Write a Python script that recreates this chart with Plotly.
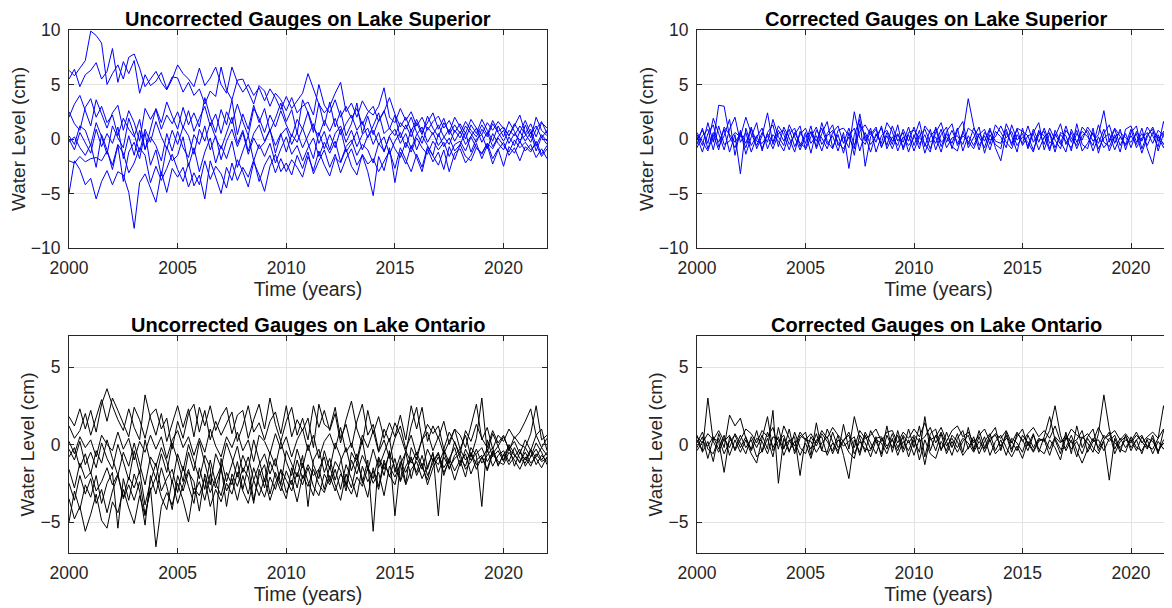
import plotly.graph_objects as go

# Sampling grid: quarterly from 2000 to 2022
TIME = [2000 + 0.25 * i for i in range(89)]

X_TICKS = [2000, 2005, 2010, 2015, 2020]
Y_TICKS_SUP = [-10, -5, 0, 5, 10]
Y_TICKS_ONT = [-5, 0, 5]

TITLES = ["Uncorrected Gauges on Lake Superior", "Corrected Gauges on Lake Superior",
          "Uncorrected Gauges on Lake Ontario", "Corrected Gauges on Lake Ontario"]

# Uncorrected gauges, Lake Superior (cm)
SUP_UNC = [
    [6.3,5.8,6.5,7.2, 9.9,9.5,8.8,5.0, 6.0,6.8,5.5,7.5, 7.8,6.5,4.8,5.5, 6.2,5.2,4.5,5.5, 6.8,6.0,5.5,4.8,
     6.5,4.9,5.6,6.6, 5.0,4.2,6.6,5.2, 4.3,5.0,4.0,4.7, 3.5,4.6,3.8,2.7, 3.9,2.8,3.5,4.2, 6.0,4.5,3.2,2.4,
     3.0,4.2,5.2,2.5, 3.3,2.0,3.5,2.6, 2.2,3.0,4.7,2.0, 1.5,2.8,1.7,2.5, 1.2,2.0,0.8,1.6, 2.1,1.0,1.7,0.6,
     1.4,0.5,1.8,1.0, 0.4,1.5,0.8,1.6, 0.9,0.3,1.2,2.2, 0.5,1.4,0.2,1.5, 1.0],
    [5.5,6.4,4.8,5.9, 6.3,7.0,5.5,6.2, 8.3,5.2,7.1,6.0, 7.2,4.2,5.9,4.9, 5.3,6.1,4.6,5.7, 5.6,4.3,5.2,4.0,
     4.6,3.2,4.4,3.9, 6.6,4.5,3.6,5.4, 5.5,4.3,3.2,4.9, 4.4,3.0,4.2,3.6, 2.6,3.8,2.4,3.0, 3.4,2.2,5.0,3.1,
     2.4,3.6,2.0,3.0, 1.9,2.8,1.3,2.4, 3.0,1.6,2.5,3.8, 2.3,1.1,2.0,0.7, 1.8,0.6,1.5,2.4, 0.9,1.9,0.4,1.3,
     0.5,1.6,0.8,0.2, 1.3,0.4,1.7,0.7, 1.1,0.3,1.4,0.6, 1.7,0.5,1.2,0.1, 0.8],
    [2.0,3.2,4.0,2.5, 1.2,3.6,2.3,1.0, 2.4,3.1,0.8,2.6, 1.5,-0.2,2.8,1.8, 2.7,0.9,2.2,1.4, 2.5,1.0,2.6,0.7,
     1.9,3.0,1.2,2.3, 0.5,2.5,1.4,3.2, 1.6,0.3,2.8,1.9, 0.6,2.2,1.1,2.6, 1.3,0.2,1.8,0.9, 2.5,1.0,0.3,1.7,
     0.7,1.9,0.4,1.4, 2.2,0.8,1.6,0.1, 1.2,2.4,0.5,1.0, 0.3,1.5,0.9,2.0, 0.6,-0.4,1.1,0.4, 1.3,0.2,-0.5,0.8,
     0.1,1.2,0.5,-0.3, 0.9,0.2,1.4,0.6, -0.2,0.8,0.3,1.2, 0.4,-0.3,0.9,1.6, 0.5],
    [0.3,-0.5,1.2,0.8, -0.6,1.5,0.2,-1.4, 1.2,0.1,-0.8,1.9, 0.4,-1.2,0.9,-0.3, 1.6,0.2,-0.9,0.8, -0.5,1.1,0.3,-1.4,
     0.9,-0.2,1.5,0.1, -0.9,0.6,2.0,-0.4, 0.8,-1.1,0.5,1.3, -0.2,0.9,-1.3,0.4, 1.0,-0.5,0.6,-0.8, 0.3,1.4,-0.4,0.7,
     -1.0,0.5,1.2,-0.3, 0.8,-0.7,0.4,1.0, -0.5,0.6,-1.2,0.3, 0.9,-0.4,0.5,-0.9, 0.4,1.1,-0.3,0.6, -0.6,0.2,0.9,-0.2,
     0.7,-0.5,0.3,1.0, -0.3,0.6,-0.7,0.2, 0.8,-0.4,0.5,-0.1, 0.3,0.9,-0.6,0.4, -0.2],
    [-0.3,0.2,-0.8,-1.5, -0.5,-2.6,0.4,-1.0, -2.8,-0.6,-3.9,-1.2, -0.3,-1.8,0.6,-2.4, -1.0,-3.4,-0.7,-2.0, -1.5,0.2,-2.5,-0.8,
     -3.0,-1.2,0.1,-2.2, -0.6,-1.8,-0.2,-2.6, -1.1,0.3,-2.0,-0.5, -1.6,-0.4,-2.2,-0.9, 0.2,-1.4,-0.6,-2.0, -0.8,0.1,-1.6,-0.3,
     -1.3,-0.2,-2.1,-0.7, -0.1,-1.5,-0.5,-1.0, -2.2,-0.4,-1.1,0.2, -0.9,-1.7,-0.3,-1.2, 0.1,-0.8,-1.4,-0.2, -1.0,-0.3,-1.6,-0.5,
     -0.2,-1.1,0.2,-0.8, -1.3,-0.4,-0.9,0.1, -0.6,-1.2,-0.1,-0.8, -0.3,-1.0,-0.5,-1.6, -0.9],
    [-2.0,-2.2,-1.6,-2.1, -1.8,-1.7,-2.0,-1.1, -2.4,-0.5,-1.3,-3.1, -2.2,-0.8,-1.5,-4.0, -2.5,-3.8,-2.7,-1.4, -2.8,-3.9,-2.2,-4.3,
     -3.3,-5.5,-2.0,-3.5, -5.0,-2.6,-3.8,-1.9, -3.0,-4.4,-2.1,-3.3, -4.8,-2.5,-1.4,-3.0, -2.2,-3.3,-1.5,-2.7, -1.2,-3.2,-2.0,-1.0,
     -2.6,-1.4,-3.1,-1.8, -0.9,-2.4,-1.5,-3.0, -5.2,-1.6,-2.9,-0.8, -4.0,-1.2,-2.3,-0.6, -1.7,-3.0,-0.9,-2.1, -1.2,-2.8,-0.7,-1.9,
     -0.5,-1.6,-2.0,-0.8, -1.4,-0.4,-1.8,-0.9, -2.5,-0.7,-1.3,-0.2, -1.1,-0.5,-1.7,-0.9, -1.8],
    [-5.0,-2.0,-2.8,-4.2, -3.6,-5.5,-3.9,-2.9, -4.2,-3.0,-3.3,-4.9, -8.2,-4.0,-3.2,-4.5, -5.8,-3.0,-4.9,-2.7, -3.5,-2.6,-4.4,-3.1,
     -4.2,-2.0,-3.7,-2.5, -3.2,-4.5,-2.2,-3.8, -2.6,-3.5,-1.9,-3.9, -2.4,-1.5,-3.1,-1.8, -3.0,-1.9,-2.6,-3.5, -1.6,-2.9,-1.1,-2.4,
     -3.4,-1.7,-2.2,-0.9, -2.5,-3.3,-1.4,-2.3, -1.8,-3.0,-2.0,-1.1, -2.7,-0.8,-1.9,-3.0, -1.4,-2.6,-0.7,-1.6, -2.4,-1.0,-3.0,-1.3,
     -0.9,-2.2,-1.5,-0.4, -1.8,-0.6,-2.3,-1.0, -0.3,-1.5,-0.8,-2.0, -0.7,-1.2,-0.2,-1.4, -0.6],
    [2.5,1.4,0.8,2.9, 3.7,2.0,3.0,1.5, 2.2,0.3,1.9,0.9, 0.2,1.8,-1.0,0.8, 2.8,1.5,3.4,2.1, 0.9,2.9,1.3,2.4,
     1.1,3.8,2.0,0.6, 2.7,1.3,3.6,0.4, 2.3,0.9,3.1,1.5, 2.8,0.7,1.9,3.3, 1.6,2.7,0.5,3.6, 2.4,0.6,3.3,1.2,
     3.4,1.1,2.6,0.3, 1.4,3.3,0.5,2.1, 0.4,1.7,2.6,0.9, 2.2,0.1,1.3,0.2, 1.5,0.4,2.1,1.0, 0.2,1.5,0.6,2.0,
     1.1,0.0,1.3,0.5, 1.8,0.8,-0.2,1.2, 0.2,1.6,0.7,-0.4, 1.3,0.1,2.0,0.8, 0.3],
    [0.0,-1.0,0.6,-0.4, -1.3,0.9,-0.7,0.5, -0.4,1.1,-1.8,0.3, -1.5,0.8,-0.9,0.2, -0.6,-2.0,0.5,-1.1, 0.7,-0.8,-1.7,0.4,
     -0.5,1.2,-1.0,0.3, -1.9,-0.2,0.9,-0.7, 0.6,-1.4,0.1,-0.9, -0.3,0.8,-0.6,0.5, -1.2,0.4,-0.3,1.0, -0.5,-1.8,0.6,-0.9,
     0.4,-0.8,0.9,-1.2, -0.4,0.7,-1.0,0.3, 0.8,-0.5,0.2,-1.4, -0.2,0.6,-0.8,0.9, -1.0,0.3,-0.6,-1.5, 0.5,-0.7,0.1,-1.1,
     -0.5,0.6,-1.2,0.0, 0.4,-0.9,0.5,-0.4, -1.0,0.2,-0.6,0.7, -0.2,0.6,-1.1,0.2, -0.5],
]

# Corrected gauges, Lake Superior (cm)
SUP_COR = [
    [0.4,-0.6,1.5,-0.3, 3.1,3.0,0.2,-0.8, 0.6,-0.4,1.1,-0.9, 0.3,2.4,-0.5,0.8, -0.2,0.9,-0.7,0.4, 1.0,-0.4,0.3,-1.1,
     0.5,1.3,-0.6,0.2, -0.8,2.5,0.1,-0.5, 0.7,-0.3,1.2,-0.9, 0.2,-0.6,0.9,-0.2, 1.1,-0.5,0.4,-0.9, 0.6,1.5,-0.3,0.8,
     -0.4,0.5,3.7,1.2, -0.6,0.3,-1.0,0.7, 0.2,-0.8,1.3,-0.1, 0.5,-0.7,0.9,-0.3, 1.0,-0.4,0.2,1.4, -0.5,0.6,-0.9,0.3,
     0.8,-0.2,0.4,2.6, -0.3,0.9,-0.6,0.5, -0.8,0.7,-0.2,1.1, 0.3,-0.7,1.6,-0.2, 0.6],
    [-0.5,1.0,-0.9,0.6, -0.3,0.9,-1.2,0.4, -3.2,1.0,-0.6,0.3, -0.9,0.5,-0.3,1.2, 0.4,-1.0,0.6,-0.4, -0.8,0.7,-0.2,1.0,
     -0.5,0.3,-1.1,0.6, -2.7,0.4,1.8,-2.5, 0.2,0.9,-0.7,0.3, -0.9,0.4,-0.3,1.1, -0.6,0.8,-1.3,0.2, 0.9,-0.7,0.5,-0.4,
     1.0,-1.1,0.3,-0.6, 0.5,-0.2,1.0,-0.8, -2.0,0.6,-0.4,0.9, -0.6,0.3,-1.0,0.4, 0.7,-0.9,0.5,-0.5, 1.2,-0.3,0.8,-1.1,
     -0.4,0.6,-0.9,0.1, 0.5,-1.0,0.2,-0.6, 0.3,-0.5,1.0,-0.9, -2.3,0.4,-0.5,0.8, -0.3],
    [0.2,-1.2,0.5,1.3, -0.7,0.3,1.8,-1.5, 0.8,-1.4,0.2,1.5, -1.1,0.6,1.3,-0.7, 1.1,0.1,-1.2,0.7, -0.4,1.2,-0.9,0.5,
     1.6,-0.8,0.4,-1.3, 0.6,-1.5,1.4,0.3, -1.2,0.5,-0.4,1.5, 0.7,-1.1,0.2,-0.6, 0.1,1.6,-0.7,0.9, -1.0,0.4,1.1,-0.9,
     0.8,1.6,-0.8,0.2, 1.1,-1.3,0.4,-0.5, -0.9,1.4,0.3,-1.2, 1.0,-0.9,0.6,1.5, -1.0,0.5,-1.2,0.6, 0.3,-1.1,1.4,-0.5,
     -0.9,1.0,-1.3,0.5, 1.3,-0.4,0.9,-1.0, 0.6,1.2,-0.9,0.4, 0.9,-1.1,0.5,1.2, -1.0],
    [0.0,0.8,-0.4,1.9, 0.5,-1.0,0.9,2.0, -0.3,0.6,-1.2,0.2, 1.0,-0.9,0.4,-0.2, -1.1,0.5,1.0,-0.7, 0.6,-1.3,0.8,0.1,
     -0.9,0.6,1.2,-0.4, 1.0,-0.6,0.7,1.3, 0.4,1.1,-0.8,0.6, -0.5,1.3,-1.0,0.4, -1.1,0.3,0.9,-0.3, 0.2,-1.2,0.7,1.4,
     -0.6,0.3,-0.2,-0.9, 0.4,0.9,-0.5,1.3, 0.6,-0.3,-0.9,0.4, -0.4,1.2,-0.3,0.6, 0.3,-1.1,0.8,-0.2, -1.2,0.9,-0.3,0.7,
     0.2,-0.6,1.3,-0.3, -0.7,0.4,-1.2,0.9, 1.2,-0.3,0.5,-0.6, 0.6,0.2,-0.8,0.5, 0.9],
    [-0.8,0.3,0.9,-1.0, 1.2,-0.5,-0.2,0.6, 0.2,2.0,0.5,-0.6, 0.6,-0.3,1.8,0.2, -0.6,1.3,0.2,-1.0, 0.3,0.6,-0.7,1.5,
     -0.2,-0.9,0.8,1.0, 0.3,1.0,-1.1,0.6, -0.5,0.2,1.0,-0.6, 1.2,-0.2,0.6,-1.2, 0.4,-0.9,1.2,0.5, -0.4,0.9,-0.8,0.1,
     0.3,-0.5,1.0,0.6, -1.0,0.6,-0.1,0.2, 1.2,0.1,0.7,-0.6, 0.2,-0.3,-1.2,0.8, -0.5,1.0,-0.1,-0.9, 0.8,0.1,-0.6,1.1,
     0.5,-1.1,0.2,-0.8, -0.1,1.0,0.3,-0.5, 0.9,-0.8,0.1,0.6, -0.4,0.8,0.3,-0.9, 0.2],
    [0.6,-0.2,-1.1,0.4, -1.0,1.1,0.4,-0.3, 0.5,-0.8,0.9,-0.2, -0.4,0.3,-0.9,0.5, 0.8,-0.5,0.4,1.2, -1.0,0.2,1.1,-0.5,
     0.3,0.8,-0.3,-0.9, 0.2,-0.9,2.3,-0.2, 1.0,-1.2,0.3,0.8, -0.2,0.5,-0.8,0.6, 0.8,0.1,-0.4,-1.2, 1.1,-0.3,0.2,-0.7,
     -1.1,0.7,-0.5,1.0, 0.2,-0.8,0.8,-0.2, -0.4,0.9,-0.6,1.0, 0.7,0.3,0.5,-1.0, 0.2,0.6,-0.8,0.4, -0.2,-0.8,0.5,-0.1,
     1.1,0.3,-0.4,0.9, -1.1,0.2,0.6,0.1, -0.3,0.5,-1.3,0.2, 1.1,-0.2,0.7,-0.5, 0.4],
]

# Uncorrected gauges, Lake Ontario (cm)
ONT_UNC = [
    [1.8,1.2,2.3,1.0, 2.2,0.8,2.6,3.6, 2.5,1.6,0.9,2.3, 1.1,0.3,3.2,1.7, 0.6,2.0,0.2,1.4, 2.5,1.1,2.3,0.5,
     2.4,1.2,2.5,0.9, 1.8,2.4,0.7,1.9, 2.2,0.4,1.6,2.6, 1.0,3.0,1.3,0.2, 1.5,2.4,0.6,1.7, 0.3,2.5,1.1,2.2,
     0.9,2.0,0.1,1.6, 2.8,1.0,0.0,2.2, 0.7,1.8,0.4,1.4, 0.5,1.9,0.3,2.5, 1.0,2.4,0.2,1.2, 0.4,1.5,0.0,1.0,
     0.6,-0.2,1.2,2.6, 0.3,1.1,-0.3,0.6, 0.2,1.0,0.4,0.8, 1.5,2.3,0.6,1.0, -0.4],
    [1.2,0.4,0.9,2.0, 0.6,1.8,2.9,1.5, 3.0,2.2,1.4,0.5, 2.4,1.6,0.4,1.9, 2.3,1.0,1.7,-0.3, 1.5,0.4,2.0,2.6,
     0.8,2.2,0.3,1.5, 0.6,1.4,2.1,0.2, 1.2,2.5,0.8,1.4, 0.3,1.5,2.1,0.7, 2.5,0.5,1.6,0.9, 1.7,-0.2,2.6,1.3,
     1.0,2.4,0.4,1.3, -0.2,1.5,2.6,0.6, 1.3,-0.4,1.0,0.2, 1.4,0.6,-0.5,1.2, 2.4,0.3,1.3,0.7, 1.2,-0.3,0.8,0.1,
     -0.6,0.9,0.2,1.3, 0.4,-0.2,0.9,0.1, 0.6,-0.4,0.5,0.0, -0.2,0.7,2.5,0.3, 0.6],
    [0.2,-0.6,0.5,-0.2, 0.3,-0.8,0.6,0.0, -0.4,0.8,-0.3,0.4, -1.0,0.2,-0.5,0.6, -0.3,0.5,-0.9,0.3, 0.9,-0.2,0.5,-0.7,
     0.4,-0.5,1.0,-0.1, -0.8,0.5,-0.2,0.8, -0.4,0.3,-1.1,0.6, 0.2,-0.6,0.7,-0.3, 0.5,-0.8,0.3,1.0, -0.4,0.6,-0.9,0.2,
     0.7,-0.3,1.1,-0.5, 0.1,-1.0,0.6,-0.2, 0.9,-0.5,0.3,-0.9, 0.4,1.2,-0.3,0.6, -0.7,0.3,0.8,-0.4, 0.5,-0.6,0.2,1.0,
     -0.3,0.6,-0.8,0.4, 3.0,-0.5,0.7,-0.1, 0.5,-0.3,0.2,-0.6, 0.3,-0.4,0.6,-0.2, 0.4],
    [-0.3,-1.0,0.2,-1.3, -0.5,-1.5,0.1,-0.9, -1.6,0.0,-1.1,-2.3, -0.4,-1.9,0.3,-1.2, -2.2,-0.6,-1.8,0.1, -1.0,-2.4,-0.5,-1.7,
     0.2,-1.3,-2.6,-0.6, -1.5,0.1,-0.9,-2.1, -0.7,-1.6,0.3,-1.0, -2.4,-0.5,-1.4,0.2, -1.1,-2.0,-0.3,-1.5, 0.0,-1.3,-2.2,-0.4,
     -1.6,0.1,-0.8,-2.7, -0.5,-1.2,0.3,-1.7, -0.3,-1.5,-0.6,0.4, -1.8,-0.7,-2.5,-0.2, -1.0,0.4,-1.6,-0.5, -4.6,-0.3,-1.2,0.2,
     -0.9,-1.4,-0.2,-0.7, -4.0,0.3,-0.8,-0.4, -1.1,0.0,-0.6,-1.2, -0.2,-0.8,0.1,-0.5, -1.3],
    [-0.8,-0.2,-1.5,-0.6, -1.9,-0.4,-1.2,0.3, -0.9,-2.0,-0.5,-1.4, 0.1,-1.3,-2.6,-0.8, -1.4,-0.2,-1.1,-2.5, -0.6,-1.7,0.0,-1.1,
     -2.2,-0.7,-1.5,-5.2, -0.9,-2.4,-1.2,-0.1, -1.8,-0.8,-2.3,-1.3, -0.6,-1.9,-0.9,-2.6, -0.4,-1.2,-2.1,-0.7, -4.0,-1.0,-0.3,-1.8,
     -0.9,-2.3,-1.1,-0.2, -1.7,-0.6,-2.5,-1.0, -5.6,-0.9,-2.0,-0.4, -4.6,-1.3,-0.5,-2.2, -0.8,-1.6,-0.3,-1.1, -0.5,-2.0,-0.9,-0.2,
     -1.4,-0.3,-1.0,-0.6, -0.2,-1.1,-0.5,-1.3, -0.7,-0.1,-1.4,-0.5, -1.0,-0.3,-0.9,-1.5, -0.8],
    [-1.6,-2.8,-1.2,-2.2, -1.8,-3.0,-2.4,-1.5, -2.6,-1.9,-3.4,-2.1, -2.8,-1.7,-3.9,-2.4, -1.2,-3.0,-2.2,-1.6, -3.1,-1.4,-2.7,-3.8,
     -1.5,-2.9,-1.0,-2.5, -3.3,-1.8,-2.6,-1.1, -2.9,-1.4,-3.6,-2.0, -1.3,-3.2,-1.8,-2.7, -3.5,-1.5,-2.8,-1.2, -2.4,-3.3,-1.6,-2.9,
     -1.4,-2.6,-3.6,-1.9, -2.8,-1.2,-2.2,-3.4, -1.5,-2.7,-1.0,-2.1, -0.9,-2.4,-1.4,-0.8, -2.0,-1.2,-2.6,-1.5, -0.8,-1.8,-1.1,-2.3,
     -1.2,-0.6,-1.9,-1.0, -0.7,-1.6,-0.4,-1.1, -1.3,-0.5,-1.0,-1.6, -0.8,-1.4,-0.6,-1.1, -0.9],
    [-2.5,-3.6,-2.0,-3.2, -2.2,-3.8,-2.9,-4.4, -3.0,-2.0,-3.5,-2.6, -3.6,-2.4,-4.5,-3.0, -2.1,-3.4,-4.2,-2.3, -3.8,-2.6,-1.6,-3.2,
     -2.4,-3.6,-1.9,-2.8, -1.6,-3.0,-2.2,-3.6, -2.0,-3.2,-1.5,-2.6, -3.4,-2.1,-2.9,-1.6, -2.3,-3.0,-1.8,-2.6, -1.5,-2.7,-3.3,-1.9,
     -2.6,-1.6,-2.9,-1.3, -2.2,-3.4,-1.4,-2.4, -1.7,-2.9,-1.2,-2.0, -2.6,-1.1,-1.8,-0.9, -1.8,-0.7,-2.0,-1.2, -0.6,-1.5,-0.9,-1.7,
     -1.0,-2.1,-0.5,-1.3, -0.9,-0.3,-1.4,-0.7, -0.4,-1.1,-0.2,-0.9, -1.2,-0.4,-1.3,-0.7, -1.1],
    [-3.5,-4.8,-4.0,-5.6, -4.5,-3.2,-4.9,-5.4, -3.7,-4.4,-2.9,-4.1, -5.1,-3.3,-4.6,-2.8, -6.6,-4.0,-3.1,-3.9, -2.5,-3.6,-5.0,-2.8,
     -3.3,-2.2,-4.0,-2.9, -3.7,-2.5,-3.2,-1.8, -3.0,-3.8,-2.3,-3.3, -2.2,-3.6,-2.5,-1.7, -3.1,-2.3,-3.7,-2.0, -2.7,-1.6,-2.6,-3.1,
     -2.0,-3.0,-1.9,-2.5, -3.2,-2.1,-2.7,-1.5, -2.5,-1.8,-3.3,-1.4, -2.1,-1.3,-2.6,-1.6, -1.1,-2.2,-1.4,-0.6, -1.8,-0.8,-1.5,-0.9,
     -0.6,-1.6,-1.1,-0.3, -1.2,-0.7,-0.2,-1.4, -0.6,-1.3,-0.8,-0.3, -1.4,-0.8,-0.3,-1.0, -0.5],
    [-5.0,-3.0,-4.2,-2.6, -3.4,-2.0,-3.8,-2.5, -1.8,-5.4,-2.2,-3.6, -1.9,-3.0,-5.2,-2.0, -3.2,-1.5,-2.7,-4.2, -2.0,-3.0,-1.8,-2.4,
     -4.3,-1.9,-3.1,-2.2, -1.4,-4.0,-1.9,-2.7, -1.5,-2.1,-3.8,-1.6, -2.8,-1.1,-2.0,-3.0, -1.7,-2.6,-1.0,-2.2, -1.3,-2.0,-1.6,-0.8,
     -2.4,-1.1,-1.7,-3.0, -1.0,-1.9,-0.7,-1.4, -2.2,-0.8,-1.6,-0.6, -1.5,-2.3,-0.4,-1.2, -0.5,-1.4,-2.3,-0.9, -1.3,-0.4,-1.6,-0.7,
     -0.3,-1.0,-0.6,-1.6, -0.8,-1.7,-0.6,-0.1, -1.0,-0.3,-0.7,-1.1, -0.5,-1.2,-0.8,-0.2, -0.7],
]

# Corrected gauges, Lake Ontario (cm)
ONT_COR = [
    [0.3,-0.4,3.0,0.2, -0.5,0.4,-0.2,0.7, 0.1,-0.6,0.5,-0.2, 0.6,-0.3,2.2,-2.5, 0.4,-0.5,0.8,-0.2, -0.6,0.5,-0.1,0.7,
     0.2,-0.4,0.6,-0.7, -2.2,0.3,-0.5,0.8, 0.1,-0.6,0.4,-0.3, 0.7,-0.2,0.5,-0.8, 0.3,-0.5,1.8,-0.4, 0.6,-0.3,0.2,-0.7,
     0.4,0.9,-0.3,0.5, -0.6,0.2,0.7,-0.4, 0.3,-0.7,0.4,0.1, -0.5,0.6,-0.2,0.4, 0.2,0.9,2.5,0.6, -0.4,0.3,-0.8,0.5,
     0.1,-0.5,0.7,3.2, 1.0,-0.3,0.4,-0.2, 0.3,-0.4,0.5,-0.1, -0.3,0.4,2.5,1.0, 0.2],
    [-0.2,0.5,-0.9,0.4, 0.2,-1.8,0.5,-0.3, 0.6,-0.2,0.3,-0.8, -0.4,0.8,-0.2,0.5, -0.7,0.2,0.5,-2.0, 0.4,-0.3,0.7,-0.4,
     -0.5,0.8,-0.2,0.3, 0.6,-0.6,0.2,-0.3, -0.4,0.5,-0.8,0.6, -0.2,0.6,-0.5,0.3, -0.7,0.4,-1.3,0.5, -0.4,0.7,-0.6,0.2,
     -0.5,0.2,0.6,-0.4, 0.5,-0.5,0.3,-0.6, -0.2,0.6,-0.5,0.7, 0.3,-0.4,0.6,-0.3, -0.6,0.3,-0.2,-1.0, 0.5,-0.3,0.2,-0.6,
     0.4,-0.2,-0.6,0.2, -2.3,0.4,-0.5,0.6, -0.2,0.3,-0.6,0.4, 0.2,-0.4,0.1,-0.5, -0.3],
    [0.6,-0.5,0.2,-1.1, 0.7,-0.2,1.9,1.2, 1.7,0.4,-0.3,0.9, -0.5,0.4,-0.8,1.1, -0.3,1.0,-0.6,0.4, 0.8,-0.7,1.4,-0.4,
     1.0,0.2,-0.6,1.3, -0.3,1.8,0.4,-0.5, 0.9,0.2,-0.6,1.2, -0.5,0.9,-0.3,1.0, -0.2,1.2,-0.8,0.7, 1.0,-0.4,0.8,-0.2,
     0.7,-0.5,1.1,-0.3, 0.9,-0.2,0.6,1.1, -0.4,0.8,-0.3,0.5, 1.0,-0.1,0.7,-0.5, 0.5,1.8,0.3,-0.6, 0.8,-0.6,1.2,-0.2,
     0.5,1.0,-0.4,0.3, 0.8,-0.6,0.2,0.5, -0.4,0.3,0.6,-0.2, 0.4,-0.6,0.9,0.1, 0.5],
    [-0.4,0.2,-0.1,0.5, -0.3,0.6,-0.7,0.3, -0.5,0.3,-0.6,-1.2, 0.4,1.8,-0.4,0.2, 0.6,-0.4,0.2,-0.7, 0.1,-0.9,0.3,0.5,
     -0.7,0.1,-0.4,0.2, -0.5,-0.9,0.6,0.1, -0.8,0.3,0.1,-0.6, 0.4,-0.7,0.2,-0.4, 0.5,-1.0,0.3,-0.6, -0.9,0.2,-0.4,0.6,
     0.2,-0.7,-0.2,0.3, -0.3,0.5,-0.7,0.2, 0.6,-0.2,-0.8,-0.1, -0.9,0.2,-0.4,0.3, 0.3,-0.7,0.4,-0.3, -0.2,0.6,-0.4,-1.2,
     -0.3,0.4,-0.2,0.6, 0.2,0.6,-0.3,-0.5, 0.5,-0.2,-0.4,0.3, -0.6,0.2,-0.3,0.4, -0.2],
    [0.1,0.8,-0.3,-0.6, 0.4,-0.6,0.2,0.6, -0.2,0.5,-0.4,0.4, 0.2,-0.6,0.5,0.3, -0.2,0.3,-0.4,0.6, 0.3,0.2,-0.5,0.1,
     0.5,-0.6,0.3,-0.1, 0.2,0.5,-0.7,0.6, -0.3,0.4,0.5,-0.1, 0.3,-0.4,0.6,0.1, 0.6,0.2,0.5,1.1, 0.1,0.8,-0.1,0.4,
     -0.2,0.4,0.1,-0.5, 0.2,-0.3,0.4,0.6, -0.1,0.4,0.2,-0.4, 0.6,0.1,-0.5,0.2, 0.4,-0.3,0.5,0.1, 0.6,0.1,0.3,0.9,
     -0.5,0.2,0.3,-0.4, 0.4,0.1,-0.2,0.3, 0.1,0.6,0.2,-0.3, 0.6,-0.5,0.3,0.2, -0.4],
    [0.5,0.1,0.7,0.3, 0.9,0.2,0.6,-0.4, 0.3,1.0,0.7,0.1, 0.9,0.5,1.1,-0.3, 1.2,0.4,-0.1,0.8, 0.3,0.7,0.1,0.9,
     0.4,1.1,0.6,0.2, 0.8,-0.2,0.9,0.4, 0.6,1.0,0.2,0.8, 0.9,0.1,0.8,0.4, 1.0,0.5,1.4,0.3, 0.5,1.1,0.2,0.9,
     1.2,0.5,0.8,0.1, 0.6,1.0,0.2,0.7, 0.4,0.9,0.1,0.8, 0.2,0.7,1.1,0.5, 0.9,0.4,1.2,0.2, 0.3,1.0,0.6,0.4,
     0.7,0.2,1.1,0.4, 0.6,0.9,0.3,0.7, 0.2,0.8,0.1,0.5, 0.8,0.4,1.0,0.3, 0.6],
]

FONT = "Liberation Sans, Arial, Helvetica, sans-serif"
AX_COLOR = "#262626"
GRID = "#e3e3e3"

PANELS = [
    (SUP_UNC, "#0000ff", "x", "y"),
    (SUP_COR, "#0000ff", "x2", "y2"),
    (ONT_UNC, "#000000", "x3", "y3"),
    (ONT_COR, "#000000", "x4", "y4"),
]

fig = go.Figure()
for data, color, xa, ya in PANELS:
    for series in data:
        fig.add_trace(go.Scatter(x=TIME[:len(series)], y=series, mode="lines",
                                 line=dict(color=color, width=1),
                                 xaxis=xa, yaxis=ya, showlegend=False, hoverinfo="skip"))

W, H = 1172, 608
OFF = 8  # the page body adds an 8px offset; place panels so they land where the reference has them
PX_PER_YEAR = 21.7
LEFT_X = [(69 - OFF) / W, (547 - OFF) / W]
RIGHT_X = [(697 - OFF) / W, 1.0]
TOP_Y = [(H - (248 - OFF)) / H, (H - (30 - OFF)) / H]
BOT_Y = [(H - (553 - OFF)) / H, (H - (336 - OFF)) / H]
RIGHT_END = 2000 + (W - (697 - OFF)) / PX_PER_YEAR


def xaxis(domain, anchor, rng):
    return dict(domain=domain, anchor=anchor, range=rng, tickvals=X_TICKS, automargin=False,
                showline=True, linecolor=AX_COLOR, linewidth=1, mirror="ticks",
                ticks="inside", ticklen=5, tickcolor=AX_COLOR, ticklabelstandoff=4,
                showgrid=True, gridcolor=GRID, gridwidth=1, zeroline=False,
                tickfont=dict(family=FONT, size=17.5, color=AX_COLOR),
                title=dict(text="Time (years)", font=dict(family=FONT, size=19.5, color=AX_COLOR), standoff=0))


def yaxis(domain, anchor, rng, ticks, mirror):
    return dict(domain=domain, anchor=anchor, range=rng, tickvals=ticks, automargin=False,
                showline=True, linecolor=AX_COLOR, linewidth=1, mirror=mirror,
                ticks="inside", ticklen=5, tickcolor=AX_COLOR, ticklabelstandoff=4,
                showgrid=True, gridcolor=GRID, gridwidth=1, zeroline=False,
                tickfont=dict(family=FONT, size=17.5, color=AX_COLOR),
                title=dict(text="Water Level (cm)", font=dict(family=FONT, size=19, color=AX_COLOR), standoff=0))


fig.update_layout(
    width=W, height=H, paper_bgcolor="white", plot_bgcolor="white",
    margin=dict(l=0, r=0, t=0, b=0, autoexpand=False), showlegend=False,
    xaxis=xaxis(LEFT_X, "y", [2000, 2022]),
    yaxis=yaxis(TOP_Y, "x", [-10, 10], Y_TICKS_SUP, "ticks"),
    xaxis2=xaxis(RIGHT_X, "y2", [2000, RIGHT_END]),
    yaxis2=yaxis(TOP_Y, "x2", [-10, 10], Y_TICKS_SUP, False),
    xaxis3=xaxis(LEFT_X, "y3", [2000, 2022]),
    yaxis3=yaxis(BOT_Y, "x3", [-7, 7], Y_TICKS_ONT, "ticks"),
    xaxis4=xaxis(RIGHT_X, "y4", [2000, RIGHT_END]),
    yaxis4=yaxis(BOT_Y, "x4", [-7, 7], Y_TICKS_ONT, False),
)

centers = [(69 + 547) / 2 - OFF, (697 + 1175) / 2 - OFF]
tops = [TOP_Y[1], BOT_Y[1]]
for i, title in enumerate(TITLES):
    fig.add_annotation(text="<b>" + title + "</b>", x=centers[i % 2] / W, y=tops[i // 2],
                       xref="paper", yref="paper", xanchor="center", yanchor="bottom",
                       showarrow=False, yshift=-1, borderpad=0,
                       font=dict(family=FONT, size=20, color="#000000"))

fig.write_html("out.html")
